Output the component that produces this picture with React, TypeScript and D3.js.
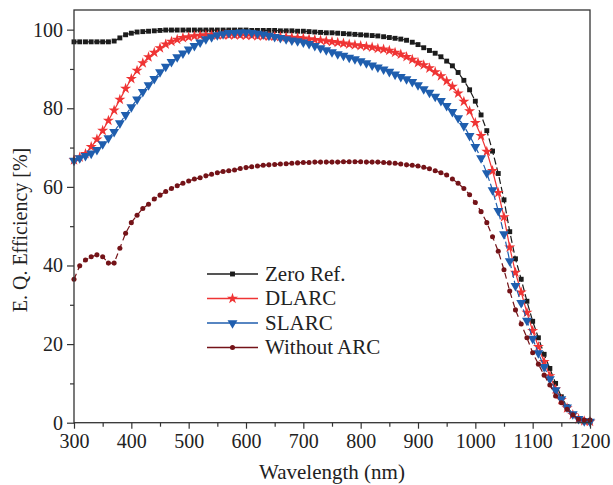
import { useEffect, useRef } from "react";
import * as d3 from "d3";

const WAVELENGTHS = [
  300, 310, 320, 330, 340, 350, 360, 370, 380, 390,
  400, 410, 420, 430, 440, 450, 460, 470, 480, 490,
  500, 510, 520, 530, 540, 550, 560, 570, 580, 590,
  600, 610, 620, 630, 640, 650, 660, 670, 680, 690,
  700, 710, 720, 730, 740, 750, 760, 770, 780, 790,
  800, 810, 820, 830, 840, 850, 860, 870, 880, 890,
  900, 910, 920, 930, 940, 950, 960, 970, 980, 990,
  1000, 1010, 1020, 1030, 1040, 1050, 1060, 1070, 1080, 1090,
  1100, 1110, 1120, 1130, 1140, 1150, 1160, 1170, 1180, 1190, 1200,
];

const ZERO_REF = [
  96.9, 96.9, 96.9, 96.9, 96.9, 96.9, 96.9, 97.1, 97.9, 98.7,
  99.1, 99.4, 99.5, 99.6, 99.7, 99.8, 99.9, 99.9, 99.9, 99.9,
  99.9, 99.9, 99.9, 99.9, 99.9, 99.9, 99.9, 99.9, 99.9, 99.9,
  99.9, 99.8, 99.8, 99.8, 99.8, 99.8, 99.7, 99.7, 99.7, 99.6,
  99.6, 99.5, 99.4, 99.3, 99.2, 99.2, 99.1, 99.0, 98.9, 98.8,
  98.7, 98.6, 98.5, 98.4, 98.2, 98.0, 97.8, 97.6, 97.3, 96.8,
  96.2, 95.4, 94.7, 94.0, 93.1, 92.0, 90.8, 89.1, 87.1, 84.7,
  81.8, 78.3, 74.3, 69.1, 63.4, 56.7, 48.6, 41.7, 36.5, 30.9,
  25.8, 21.6, 17.4, 13.8, 10.0, 6.6, 4.1, 2.0, 0.9, 0.4, 0.3,
];

const DLARC = [
  66.8, 67.5, 68.4, 70.2, 72.1, 74.3, 76.9, 79.5, 82.2, 85.0,
  87.5, 89.6, 91.5, 93.0, 94.2, 95.3, 96.3, 97.0, 97.5, 97.9,
  98.1, 98.4, 98.5, 98.6, 98.6, 98.6, 98.6, 98.6, 98.6, 98.6,
  98.5, 98.5, 98.4, 98.4, 98.3, 98.3, 98.2, 98.1, 98.0, 97.9,
  97.8, 97.6, 97.4, 97.3, 97.1, 96.9, 96.7, 96.5, 96.3, 96.1,
  95.9, 95.7, 95.5, 95.2, 95.0, 94.7, 94.2, 93.7, 93.1, 92.4,
  91.6, 91.0, 90.2, 89.2, 88.2, 86.9, 85.5, 83.8, 81.7, 79.3,
  76.3, 73.0, 69.0, 64.1, 58.5, 52.3, 44.6, 38.2, 33.2, 28.0,
  23.4, 19.3, 15.5, 11.9, 8.5, 5.8, 3.7, 2.0, 0.9, 0.4, 0.3,
];

const SLARC = [
  66.7, 67.3, 67.9, 68.5, 69.4, 70.9, 72.4, 74.0, 76.2, 78.3,
  80.3, 82.3, 84.2, 85.9, 87.5, 89.2, 90.6, 91.8, 93.0, 94.0,
  95.0, 95.9, 96.8, 97.6, 98.1, 98.6, 98.9, 99.2, 99.2, 99.3,
  99.3, 99.2, 99.0, 98.8, 98.5, 98.2, 97.9, 97.6, 97.3, 97.1,
  96.8, 96.4, 95.9, 95.3, 94.8, 94.3, 93.8, 93.4, 92.9, 92.5,
  92.0, 91.5, 90.9, 90.4, 89.9, 89.3, 88.6, 88.0, 87.4, 86.7,
  85.9, 84.9, 84.0, 83.0, 81.9, 80.6, 79.1, 77.5, 75.5, 73.0,
  70.2, 67.3, 63.5, 59.2, 53.9, 48.0, 41.1, 34.8, 30.5, 26.0,
  21.4, 17.7, 14.2, 11.1, 8.3, 6.0, 3.9, 2.2, 1.0, 0.4, 0.3,
];

const WITHOUT_ARC = [
  36.5, 39.9, 41.4, 42.2, 42.7, 42.2, 40.6, 40.6, 44.4, 48.2,
  50.9, 52.8, 54.5, 55.6, 56.9, 57.9, 58.8, 59.6, 60.3, 60.9,
  61.5, 62.0, 62.3, 62.8, 63.2, 63.6, 63.9, 64.1, 64.3, 64.7,
  64.9, 65.1, 65.3, 65.5, 65.6, 65.7, 65.8, 65.9, 66.0, 66.1,
  66.2, 66.2, 66.3, 66.3, 66.3, 66.3, 66.3, 66.4, 66.4, 66.4,
  66.4, 66.3, 66.3, 66.3, 66.2, 66.1, 66.0, 65.8, 65.6, 65.5,
  65.3, 65.0, 64.6, 64.1, 63.6, 63.0, 62.0, 60.9, 59.6, 58.0,
  56.0, 53.7, 50.9, 47.3, 43.6, 38.9, 33.5, 28.7, 25.1, 21.6,
  17.8, 14.9, 12.1, 9.6, 6.8, 5.1, 3.4, 2.0, 0.9, 0.7, 0.7,
];

const X_TICKS = [300, 400, 500, 600, 700, 800, 900, 1000, 1100, 1200];
const X_MINOR = [350, 450, 550, 650, 750, 850, 950, 1050, 1150];
const Y_TICKS = [0, 20, 40, 60, 80, 100];
const Y_MINOR = [10, 30, 50, 70, 90];

const SERIES = [
  { name: "Zero Ref.", values: ZERO_REF, color: "#1c1c1c", symbol: d3.symbolSquare, size: 24, rotate: 0, dash: "7,3" },
  { name: "DLARC", values: DLARC, color: "#ef3434", symbol: d3.symbolStar, size: 38, rotate: 0, dash: null },
  { name: "SLARC", values: SLARC, color: "#1f5eae", symbol: d3.symbolTriangle, size: 42, rotate: 180, dash: "7,3" },
  { name: "Without ARC", values: WITHOUT_ARC, color: "#741318", symbol: d3.symbolCircle, size: 20, rotate: 0, dash: "6,4" },
];

const FONT = "Liberation Serif, Times New Roman, serif";

export default function App() {
  const svgRef = useRef(null);

  useEffect(() => {
    const width = 613;
    const height = 485;
    const margin = { left: 74, top: 10, right: 23, bottom: 62.3 };
    const innerW = width - margin.left - margin.right;
    const innerH = height - margin.top - margin.bottom;

    const svg = d3.select(svgRef.current).attr("width", width).attr("height", height);
    svg.selectAll("*").remove();

    const x = d3.scaleLinear().domain([300, 1200]).range([0, innerW]);
    const y = d3.scaleLinear().domain([0, 105]).range([innerH, 0]);

    const g = svg.append("g").attr("transform", "translate(" + margin.left + "," + margin.top + ")");

    // lines + markers
    SERIES.forEach((s) => {
      const pts = WAVELENGTHS.map((w, i) => ({ w: w, v: s.values[i] }));
      const line = d3.line().x((d) => x(d.w)).y((d) => y(d.v));
      g.append("path")
        .attr("d", line(pts))
        .attr("fill", "none")
        .attr("stroke", s.color)
        .attr("stroke-width", 1.2)
        .attr("stroke-dasharray", s.dash);
      const sym = d3.symbol().type(s.symbol).size(s.size);
      g.append("g")
        .selectAll("path")
        .data(pts)
        .join("path")
        .attr("d", sym())
        .attr("fill", s.color)
        .attr("transform", (d) => "translate(" + x(d.w) + "," + y(d.v) + ") rotate(" + s.rotate + ")");
    });

    // axes
    const xAxis = g.append("g").attr("transform", "translate(0," + innerH + ")");
    xAxis.call(d3.axisBottom(x).tickValues(X_TICKS).tickSize(6).tickPadding(5).tickFormat(d3.format("d")));
    xAxis.append("g").call(d3.axisBottom(x).tickValues(X_MINOR).tickSize(4).tickFormat(() => ""));
    const yAxis = g.append("g");
    yAxis.call(d3.axisLeft(y).tickValues(Y_TICKS).tickSize(7).tickPadding(4).tickFormat(d3.format("d")));
    yAxis.append("g").call(d3.axisLeft(y).tickValues(Y_MINOR).tickSize(4).tickFormat(() => ""));
    g.selectAll(".domain").remove();
    g.selectAll(".tick line").attr("stroke", "#333").attr("stroke-width", 1.2);
    g.selectAll(".tick text").attr("fill", "#222");
    // d3 axis puts font-family on the group, override there
    xAxis.attr("font-family", FONT).attr("font-size", 20);
    yAxis.attr("font-family", FONT).attr("font-size", 20);

    // frame
    g.append("rect")
      .attr("width", innerW)
      .attr("height", innerH)
      .attr("fill", "none")
      .attr("stroke", "#333")
      .attr("stroke-width", 1.3);

    // axis titles
    svg.append("text")
      .attr("x", margin.left + innerW / 2)
      .attr("y", 479)
      .attr("text-anchor", "middle")
      .attr("fill", "#222")
      .attr("font-family", FONT)
      .attr("font-size", 21)
      .text("Wavelength (nm)");
    svg.append("text")
      .attr("transform", "translate(27," + (margin.top + 220) + ") rotate(-90)")
      .attr("text-anchor", "middle")
      .attr("fill", "#222")
      .attr("font-family", FONT)
      .attr("font-size", 20)
      .text("E. Q. Efficiency [%]");

    // legend
    const legend = svg.append("g").attr("transform", "translate(207,274)");
    SERIES.forEach((s, i) => {
      const row = legend.append("g").attr("transform", "translate(0," + i * 24.5 + ")");
      row.append("line").attr("x1", 0).attr("x2", 51).attr("stroke", s.color).attr("stroke-width", 1.4);
      row.append("path")
        .attr("d", d3.symbol().type(s.symbol).size(s.size)())
        .attr("fill", s.color)
        .attr("transform", "translate(25.5,0) rotate(" + s.rotate + ")");
      row.append("text")
        .attr("x", 58)
        .attr("y", 6.5)
        .attr("fill", "#222")
        .attr("font-family", FONT)
        .attr("font-size", 21)
        .text(s.name);
    });
  }, []);

  return (
    <svg ref={svgRef} style={{ position: "absolute", left: 0, top: 0, background: "#fff" }}></svg>
  );
}
